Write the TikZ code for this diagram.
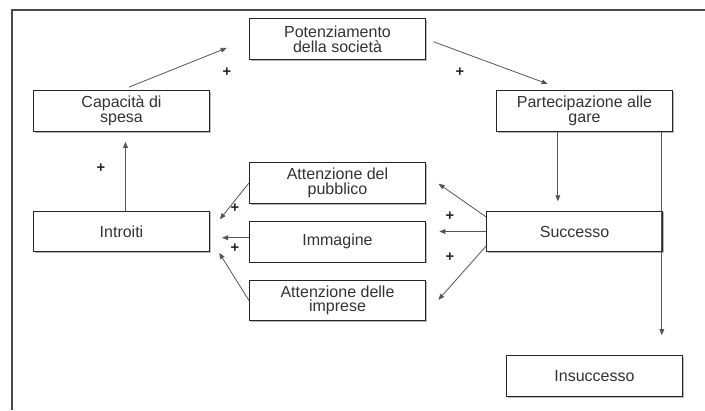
\documentclass[tikz,border=0pt]{standalone}
\usepackage{fontspec}
\setmainfont{Liberation Sans}
\usepackage{tikz}
\usetikzlibrary{arrows.meta, positioning, shadows}
\definecolor{framegray}{HTML}{4A4A4A}
\definecolor{linegray}{HTML}{555555}
\definecolor{textgray}{HTML}{333333}

\begin{document}
\begin{tikzpicture}[
    x=0.75pt, y=-0.75pt,
    box/.style={rectangle, draw=black!85, line width=0.8pt, fill=white,
                drop shadow={shadow xshift=0.9pt, shadow yshift=-0.9pt, fill=gray!55, opacity=1},
                minimum width=132pt, minimum height=30.5pt, inner sep=0pt,
                align=center, text=textgray, font=\fontsize{12}{11}\selectfont},
    arr/.style={-{Triangle[length=4.5pt, width=3.6pt]}, line width=0.6pt, color=linegray},
    sign/.style={font=\fontsize{11}{11}\selectfont\bfseries, text=black!85, inner sep=0pt}
]
\useasboundingbox (0,0) rectangle (705,410);

% cornice
\draw[framegray, line width=1.5pt] (705,10) -- (12,10) -- (12,410);

\node[box] (pot)  at (337.5,39)  {Potenziamento\\della società};
\node[box] (cap)  at (121.5,111) {Capacità di\\spesa};
\node[box] (part) at (584.5,111) {Partecipazione alle\\gare};
\node[box] (pub)  at (337.5,183) {Attenzione del\\pubblico};
\node[box, below=12.75pt of pub] (imm) {Immagine};
\node[box, below=12.75pt of imm] (imp) {Attenzione delle\\imprese};
\node[box] (intro)  at (121.5,231.5) {Introiti};
\node[box] (succ)   at (574.5,231.5) {Successo};
\node[box] (insucc) at (594.5,376)   {Insuccesso};

\draw[arr, shorten >=7.5pt] ([xshift=3pt]intro.north) -- ([xshift=3pt]cap.south);
\draw[arr, shorten <=6pt, shorten >=18pt] (cap.north) -- (pot.west);
\draw[arr, shorten <=6pt, shorten >=13.5pt] (pot.east) -- ([xshift=-15pt]part.north);
\draw[arr, shorten >=7pt] ([xshift=-20pt]part.south) -- ([xshift=-20pt]part.south |- succ.north);
\draw[arr, shorten >=15pt] ([xshift=58pt]part.south) -- ([xshift=58pt]part.south |- insucc.north);

\draw[arr, shorten >=11.5pt] ([yshift=11pt]succ.west) -- ([yshift=6pt]pub.east);
\draw[arr, shorten >=10pt] (succ.west) -- (succ.west -| imm.east);
\draw[arr, shorten >=14pt] ([yshift=-11pt]succ.west) -- ([yshift=-10pt]imp.east);

\draw[arr, shorten >=11.8pt] (pub.west) -- (intro.east);
\draw[arr, shorten >=9pt] ([yshift=3pt]imm.west) -- ([yshift=3pt]imm.west -| intro.east);
\draw[arr, shorten >=13pt] (imp.west) -- ([yshift=-5pt]intro.east);

% segni
\node[sign] (s1) at (101,168) {+};
\node[sign] (s2) at (227,72)  {+};
\node[sign] (s3) at (460,72)  {+};
\node[sign] (s4) at (235,208) {+};
\node[sign] (s5) at (235,248) {+};
\node[sign] (s6) at (450,216) {+};
\node[sign] (s7) at (450,257) {+};

\end{tikzpicture}
\end{document}
